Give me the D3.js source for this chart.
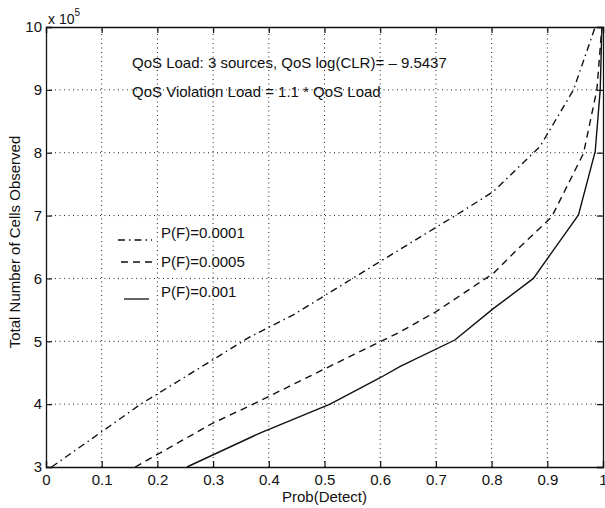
<!DOCTYPE html>
<html>
<head>
<meta charset="utf-8">
<script src="https://cdn.jsdelivr.net/npm/d3@7"></script>
<style>
  body { margin: 0; background: #fff; }
  text { font-family: "Liberation Sans", Arial, sans-serif; fill: #111; }
</style>
</head>
<body>
<div id="vis-container"></div>
<script>
// data (cells in units of 10^5)
const pf0001Detect = [0.01, 0.10, 0.17, 0.24, 0.366, 0.444, 0.60, 0.735, 0.803, 0.887, 0.947, 0.986];
const pf0001Cells  = [3.0, 3.56, 4.0, 4.38, 5.07, 5.42, 6.27, 7.0, 7.38, 8.1, 9.0, 10.0];

const pf0005Detect = [0.16, 0.30, 0.372, 0.50, 0.636, 0.70, 0.803, 0.845, 0.908, 0.965, 0.989, 0.998];
const pf0005Cells  = [3.0, 3.70, 4.0, 4.56, 5.15, 5.47, 6.08, 6.45, 6.98, 7.99, 9.0, 10.0];

const pf001Detect = [0.253, 0.384, 0.51, 0.60, 0.636, 0.734, 0.803, 0.875, 0.911, 0.956, 0.986, 0.995, 0.998];
const pf001Cells  = [3.0, 3.54, 4.0, 4.42, 4.6, 5.02, 5.52, 6.0, 6.45, 7.01, 8.02, 9.0, 10.0];

const seriesNames = ["P(F)=0.0001", "P(F)=0.0005", "P(F)=0.001"];
const xTicks = [0, 0.1, 0.2, 0.3, 0.4, 0.5, 0.6, 0.7, 0.8, 0.9, 1];
const xTickLabels = ["0", "0.1", "0.2", "0.3", "0.4", "0.5", "0.6", "0.7", "0.8", "0.9", "1"];
const yTicks = [3, 4, 5, 6, 7, 8, 9, 10];
const yTickLabels = ["3", "4", "5", "6", "7", "8", "9", "10"];

const width = 605;
const height = 508;
const margin = { top: 27, right: 2, bottom: 41, left: 46 };

const svg = d3.select("#vis-container")
    .append("svg")
    .attr("width", width)
    .attr("height", height);

const x = d3.scaleLinear()
    .domain([0, 1])
    .range([margin.left, width - margin.right]);

const y = d3.scaleLinear()
    .domain([3, 10])
    .range([height - margin.bottom, margin.top]);

// dotted grid
svg.append("g")
    .selectAll("line")
    .data(xTicks.slice(1, -1))
    .enter()
    .append("line")
    .attr("x1", d => x(d)).attr("x2", d => x(d))
    .attr("y1", y(3)).attr("y2", y(10))
    .attr("stroke", "#222")
    .attr("stroke-width", 1)
    .attr("stroke-dasharray", "1,3.5");

svg.append("g")
    .selectAll("line")
    .data(yTicks.slice(1, -1))
    .enter()
    .append("line")
    .attr("x1", x(0)).attr("x2", x(1))
    .attr("y1", d => y(d)).attr("y2", d => y(d))
    .attr("stroke", "#222")
    .attr("stroke-width", 1)
    .attr("stroke-dasharray", "1,3.5");

// axes (ticks pointing inward)
const fontSize = "15px";
svg.append("g")
    .attr("transform", `translate(0,${y(3)})`)
    .call(d3.axisBottom(x).tickValues(xTicks).tickSize(-6).tickPadding(7)
        .tickFormat((d, i) => xTickLabels[i]))
    .call(g => g.selectAll("text").attr("font-size", fontSize).attr("fill", "#111"));

svg.append("g")
    .attr("transform", `translate(0,${y(10)})`)
    .call(d3.axisTop(x).tickValues(xTicks).tickSize(-6).tickFormat(""));

svg.append("g")
    .attr("transform", `translate(${x(0)},0)`)
    .call(d3.axisLeft(y).tickValues(yTicks).tickSize(-6).tickPadding(4)
        .tickFormat((d, i) => yTickLabels[i]))
    .call(g => g.selectAll("text").attr("font-size", fontSize).attr("fill", "#111"));

svg.append("g")
    .attr("transform", `translate(${x(1)},0)`)
    .call(d3.axisRight(y).tickValues(yTicks).tickSize(-6).tickFormat(""));

svg.selectAll(".domain").attr("stroke", "#111").attr("stroke-width", 1.3);
svg.selectAll(".tick line").attr("stroke", "#111").attr("stroke-width", 1.2);

// curves
const series = [
    { name: seriesNames[0], px: pf0001Detect, py: pf0001Cells, dash: "7,4,1.5,4" },
    { name: seriesNames[1], px: pf0005Detect, py: pf0005Cells, dash: "7,5" },
    { name: seriesNames[2], px: pf001Detect, py: pf001Cells, dash: null }
];

const line = d3.line()
    .x(d => x(d[0]))
    .y(d => y(d[1]));

svg.append("g")
    .selectAll("path")
    .data(series)
    .enter()
    .append("path")
    .attr("d", s => line(s.px.map((p, i) => [p, s.py[i]])))
    .attr("fill", "none")
    .attr("stroke", "#111")
    .attr("stroke-width", 1.4)
    .attr("stroke-dasharray", s => s.dash);

// legend (drawn as text in the plot)
const legendRows = [
    { sample: [118, 152, 240], textY: 238 },
    { sample: [121, 152, 262], textY: 267 },
    { sample: [124, 149, 299], textY: 297 }
];

const legend = svg.append("g");
legendRows.forEach((r, i) => {
    legend.append("line")
        .attr("x1", r.sample[0]).attr("x2", r.sample[1])
        .attr("y1", r.sample[2]).attr("y2", r.sample[2])
        .attr("stroke", "#111")
        .attr("stroke-width", 1.3)
        .attr("stroke-dasharray", series[i].dash);
    legend.append("text")
        .attr("x", 161)
        .attr("y", r.textY)
        .attr("font-size", fontSize)
        .text(series[i].name);
});

// annotations
svg.append("text")
    .attr("x", 132).attr("y", 68)
    .attr("font-size", fontSize)
    .text("QoS Load: 3 sources, QoS log(CLR)= \u2013 9.5437");

svg.append("text")
    .attr("x", 132).attr("y", 97)
    .attr("font-size", fontSize)
    .text("QoS Violation Load = 1.1 * QoS Load");

// exponent label
const expo = svg.append("text")
    .attr("x", 48).attr("y", 24)
    .attr("font-size", "14px");
expo.append("tspan").text("x 10");
expo.append("tspan").attr("dy", -8).attr("font-size", "10px").text("5");

// axis titles
svg.append("text")
    .attr("x", (x(0) + x(1)) / 2)
    .attr("y", 502)
    .attr("text-anchor", "middle")
    .attr("font-size", fontSize)
    .text("Prob(Detect)");

svg.append("text")
    .attr("transform", `translate(20,${(y(3) + y(10)) / 2 - 5}) rotate(-90)`)
    .attr("text-anchor", "middle")
    .attr("font-size", fontSize)
    .text("Total Number of Cells Observed");
</script>
</body>
</html>
